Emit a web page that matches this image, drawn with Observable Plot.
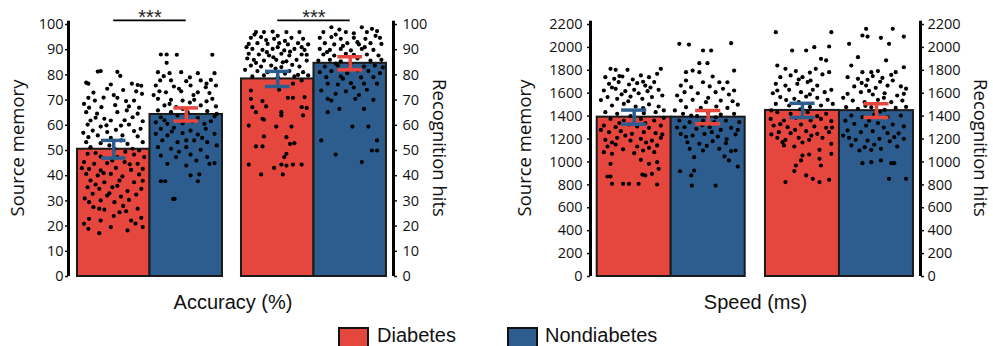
<!DOCTYPE html>
<html>
<head>
<meta charset="utf-8">
<script src="https://cdn.jsdelivr.net/npm/d3@7"></script>
<script src="https://cdn.jsdelivr.net/npm/@observablehq/plot@0.6"></script>
<style>
  body { margin: 0; background: #fff; }
  #wrap { position: relative; width: 993px; height: 346px; overflow: hidden; background: #fff; }
  #p1 { position: absolute; left: 0; top: 0; }
  #p2 { position: absolute; left: 497px; top: 0; }
  .sw { position: absolute; top: 327px; width: 27px; height: 27px; border: 2px solid #111; }
  .lt { position: absolute; top: 325px; font-family: "Liberation Sans", Arial, sans-serif; font-size: 20px; line-height: 21px; color: #111; }
</style>
</head>
<body>
<div id="wrap">
  <div id="p1"></div>
  <div id="p2"></div>
  <div class="sw" style="left:338px;background:#E5473F"></div>
  <div class="lt" style="left:377px">Diabetes</div>
  <div class="sw" style="left:507px;background:#2D5D8E"></div>
  <div class="lt" style="left:545px">Nondiabetes</div>
</div>
<script>
const red = "#E5473F", blue = "#2D5D8E";
const groups = ["Source memory", "Recognition hits"];
const series = ["Diabetes", "Nondiabetes"];
const accTicks = [0,10,20,30,40,50,60,70,80,90,100];
const speedTicks = [0,200,400,600,800,1000,1200,1400,1600,1800,2000,2200];
// order: source-diabetes, source-nondiabetes, recognition-diabetes, recognition-nondiabetes
const accMeans = [50.5, 64.3, 78.4, 84.6];
const accErrs = [3.5, 2.6, 3.0, 2.6];
const speedMeans = [1391, 1391, 1450, 1448];
const speedErrs = [62, 58, 62, 60];
const accSignificance = ["***", "***"];

// individual participants: [position within bar (0-1), value]
const accSrcDia = [[.28,81.3],[.32,81.5],[.55,81.2],[.59,79.6],[.12,76.9],[.15,76.5],[.46,76.2],[.75,76.5],[.83,76],[.88,75.7],[.41,74.5],[.81,73.5],[.89,72.5],[.15,70.9],[.24,69.8],[.55,70.9],[.67,69.6],[.78,69.8],[.16,67],[.33,67.2],[.71,67.5],[.68,65.9],[.12,65.2],[.27,64.6],[.55,65.2],[.83,64.6],[.18,61.9],[.37,62.6],[.46,61.9],[.76,63.2],[.9,61.6],[.14,60.3],[.32,59.5],[.6,59.9],[.71,60.3],[.87,58.6],[.21,57.9],[.41,57.3],[.53,58.2],[.78,57.7],[.15,55.3],[.28,56],[.46,55],[.62,56],[.83,55.6],[.12,53.3],[.32,52.9],[.69,52.6],[.9,53.3],[.18,51.3],[.51,50.7],[.76,50.7],[.14,48.7],[.32,47.6],[.55,47.4],[.78,48.4],[.92,47.4],[.09,45.4],[.23,44.7],[.41,45],[.65,45.4],[.83,44.7],[.16,42.7],[.32,42.1],[.53,43.1],[.74,42.3],[.9,42.7],[.12,40.7],[.28,40.1],[.46,40.7],[.62,39.7],[.85,40.5],[.18,38.1],[.37,37.4],[.58,38.1],[.78,37.4],[.14,35.4],[.3,34.8],[.48,35.4],[.69,33.9],[.88,34.8],[.21,32.8],[.41,32.1],[.6,31.7],[.81,32.5],[.16,29.5],[.32,30.2],[.51,29.5],[.71,30.4],[.3,26.9],[.37,26.5],[.58,25.5],[.67,25.9],[.83,26.9],[.16,22.9],[.32,22.2],[.74,22.2],[.88,23.3],[.15,18.9],[.3,17.2],[.46,19.6],[.69,18.3],[.9,19.6],[.09,20.9],[.22,73],[.5,72],[.63,74],[.36,71],[.09,68.5],[.52,68],[.85,67],[.25,63],[.65,62],[.4,60],[.08,57],[.6,54],[.44,52],[.25,49],[.66,49.5],[.85,50],[.48,46],[.06,43],[.72,44.5],[.36,41],[.55,36],[.25,36.5],[.9,38],[.44,33],[.1,31],[.63,28],[.22,27.5],[.5,24],[.8,21]];
const accSrcNon = [[.15,88.1],[.23,88.1],[.37,88],[.86,88],[.23,84.8],[.11,81.1],[.27,80.7],[.43,81.1],[.66,80.7],[.89,80.7],[.14,77.8],[.29,77.8],[.5,77.5],[.7,77.8],[.84,78],[.08,75.8],[.33,75.4],[.56,75.8],[.77,75.1],[.91,75.8],[.13,73.5],[.22,73.1],[.43,73.5],[.66,73.1],[.82,72.8],[.11,70.5],[.29,70.1],[.45,69.8],[.61,70.1],[.86,70.5],[.2,67.9],[.36,67.2],[.7,67.9],[.91,67.5],[.11,65.9],[.29,65.2],[.52,65.2],[.79,65.6],[.15,63.2],[.38,63.9],[.66,63],[.89,63.5],[.08,61.2],[.24,60.6],[.45,60.8],[.75,60.6],[.84,61.6],[.15,58.6],[.33,59],[.56,57.9],[.77,58.6],[.08,56.6],[.24,56],[.45,56.9],[.66,56.3],[.89,56.6],[.17,54],[.38,53.3],[.61,54],[.79,53.3],[.11,51.3],[.29,50.7],[.5,51.3],[.7,50.3],[.15,48],[.36,47.4],[.56,48.4],[.79,47.4],[.89,45],[.82,44.7],[.24,44.7],[.5,44],[.68,40.5],[.56,40.1],[.15,37.8],[.21,37.8],[.66,37.8],[.32,30.8],[.34,30.8],[.19,79.5],[.55,79],[.78,76.5],[.4,74.5],[.6,72],[.05,72],[.27,68.5],[.55,69],[.78,69.5],[.45,66.5],[.92,64.5],[.2,62],[.58,61.5],[.3,57.5],[.72,55],[.5,54],[.92,52],[.4,49.5],[.64,46]];
const accRecDia = [[.2,97],[.31,97],[.43,97.2],[.62,97],[.8,97],[.13,94.7],[.27,95],[.45,94.3],[.69,94.7],[.85,94.3],[.1,92.3],[.22,92.6],[.36,92.3],[.52,92.6],[.64,92.1],[.78,92.6],[.92,92.1],[.15,90.3],[.29,89.9],[.43,90.3],[.59,89.7],[.73,90.3],[.87,89.9],[.1,88.4],[.24,88.1],[.38,87.7],[.55,88.4],[.66,87.7],[.83,88.1],[.17,86],[.31,85.7],[.48,86],[.62,85.4],[.76,86],[.9,85.7],[.13,83.7],[.27,83.3],[.41,83.7],[.55,83.1],[.8,83.3],[.22,81.5],[.36,81.1],[.66,81.5],[.85,81.1],[.15,79.4],[.31,79.8],[.5,79.1],[.73,79.4],[.92,79.8],[.83,77.8],[.71,76.5],[.13,73.8],[.52,74.1],[.13,70.5],[.29,69.6],[.64,70.9],[.71,70.9],[.87,71.2],[.15,67.2],[.34,67.5],[.83,67.2],[.9,66.9],[.55,65.2],[.2,65.2],[.29,62.6],[.31,62.2],[.55,63.9],[.85,63.9],[.1,59.9],[.48,59.5],[.69,59.5],[.31,55.6],[.62,55.3],[.2,51.6],[.29,51.6],[.67,52.6],[.73,52.9],[.62,48.7],[.59,47.4],[.1,44.4],[.55,44.4],[.71,44.4],[.83,44.4],[.45,43.1],[.62,44],[.27,40.5],[.57,40.5],[.18,96],[.5,95.5],[.34,93.8],[.6,93.5],[.07,91],[.5,91],[.83,91],[.35,89],[.67,89.2],[.08,86.5],[.44,87],[.9,88],[.2,84.8],[.57,85],[.7,84],[.05,82],[.47,82.5],[.6,80.5],[.78,80]];
const accRecNon = [[.24,98.9],[.66,98.9],[.8,98.3],[.13,97],[.44,97],[.73,97],[.87,97.4],[.08,94.7],[.24,95],[.37,94.3],[.55,94.7],[.71,94.3],[.91,94.7],[.15,92.6],[.28,92.1],[.46,92.6],[.62,92.1],[.78,92.6],[.93,92.3],[.08,90.3],[.22,89.9],[.37,90.3],[.51,89.7],[.66,90.3],[.82,89.9],[.13,88.1],[.28,87.7],[.44,88.4],[.73,88.1],[.89,87.7],[.06,85.7],[.22,86],[.37,85.4],[.78,85.7],[.93,86],[.15,83.3],[.33,83.7],[.69,83.3],[.84,83.7],[.08,81.1],[.24,81.5],[.46,80.7],[.75,81.5],[.91,80.7],[.17,79.1],[.37,79.4],[.82,79.1],[.19,76.5],[.33,76.2],[.51,76.7],[.69,76.5],[.87,76.5],[.1,73.8],[.44,73.5],[.73,74.1],[.19,70.5],[.24,69.8],[.57,70.5],[.82,70.1],[.19,65.2],[.35,66.5],[.69,66.5],[.53,59.5],[.75,59.5],[.1,54],[.87,54],[.3,48.4],[.8,50],[.87,50],[.66,45.4],[.35,98],[.55,96.5],[.3,96],[.6,93],[.85,95.5],[.4,91.5],[.7,91],[.18,89],[.55,88],[.6,86.5],[.3,84.5],[.5,84],[.95,83],[.6,81.8],[.4,78.5],[.65,79],[.55,75],[.3,72.5],[.62,72]];
const spdSrcDia = [[.18,1813],[.25,1804],[.41,1804],[.86,1813],[.11,1740],[.23,1726],[.34,1746],[.59,1755],[.7,1740],[.81,1769],[.16,1682],[.29,1697],[.43,1676],[.54,1688],[.65,1667],[.77,1697],[.09,1624],[.25,1638],[.38,1618],[.5,1630],[.68,1618],[.83,1630],[.14,1566],[.27,1551],[.45,1571],[.61,1551],[.74,1566],[.88,1580],[.2,1493],[.36,1507],[.52,1484],[.7,1502],[.83,1484],[.11,1435],[.27,1420],[.63,1426],[.79,1435],[.18,1376],[.36,1362],[.59,1376],[.77,1362],[.9,1385],[.09,1318],[.25,1304],[.43,1327],[.54,1310],[.7,1298],[.86,1318],[.16,1260],[.32,1269],[.47,1246],[.63,1260],[.79,1251],[.11,1193],[.27,1211],[.45,1187],[.59,1202],[.74,1187],[.86,1211],[.14,1135],[.25,1152],[.54,1135],[.7,1123],[.81,1144],[.09,1085],[.2,1071],[.5,1077],[.77,1085],[.18,984],[.59,1019],[.7,984],[.81,998],[.83,940],[.14,873],[.18,873],[.65,882],[.61,890],[.74,896],[.2,809],[.35,809],[.43,809],[.56,809],[.81,803],[.3,1750],[.48,1720],[.62,1700],[.2,1650],[.72,1650],[.33,1590],[.56,1600],[.05,1540],[.42,1530],[.62,1470],[.9,1450],[.45,1400],[.3,1340],[.65,1340],[.05,1280],[.38,1230],[.88,1240],[.2,1170],[.66,1170],[.35,1110],[.62,1100]];
const spdSrcNon = [[.11,2031],[.24,2025],[.81,2037],[.43,1973],[.54,1973],[.38,1862],[.49,1862],[.85,1798],[.2,1784],[.29,1798],[.38,1784],[.56,1746],[.2,1711],[.43,1696],[.65,1696],[.76,1696],[.13,1667],[.27,1653],[.52,1659],[.7,1639],[.85,1624],[.18,1609],[.36,1600],[.6,1609],[.78,1589],[.13,1536],[.29,1542],[.47,1522],[.67,1536],[.83,1530],[.2,1478],[.4,1472],[.61,1484],[.76,1472],[.16,1420],[.27,1405],[.67,1414],[.85,1420],[.11,1362],[.25,1347],[.43,1362],[.58,1347],[.74,1362],[.92,1347],[.18,1303],[.34,1289],[.52,1303],[.67,1280],[.81,1298],[.13,1245],[.29,1231],[.45,1245],[.63,1222],[.87,1240],[.22,1172],[.38,1158],[.56,1181],[.74,1164],[.25,1115],[.43,1100],[.65,1115],[.81,1094],[.87,1100],[.31,1042],[.72,1048],[.78,1013],[.9,960],[.12,919],[.31,925],[.27,882],[.28,794],[.6,794],[.08,1580],[.5,1560],[.9,1500],[.05,1450],[.5,1430],[.35,1400],[.6,1390],[.08,1300],[.42,1320],[.9,1280],[.55,1260],[.2,1220],[.75,1200],[.48,1140]];
const spdRecDia = [[.14,2133],[.89,2133],[.36,1973],[.55,1973],[.66,2002],[.86,2008],[.16,1842],[.27,1813],[.41,1793],[.75,1900],[.82,1886],[.68,1813],[.2,1740],[.34,1755],[.5,1740],[.61,1711],[.77,1764],[.86,1784],[.14,1682],[.27,1667],[.43,1682],[.57,1697],[.7,1667],[.16,1624],[.32,1630],[.48,1609],[.64,1630],[.8,1609],[.89,1630],[.2,1566],[.39,1551],[.55,1571],[.7,1560],[.84,1542],[.14,1507],[.32,1493],[.45,1522],[.75,1493],[.91,1507],[.16,1435],[.34,1420],[.57,1435],[.82,1420],[.07,1376],[.25,1362],[.41,1385],[.61,1362],[.75,1376],[.89,1356],[.11,1318],[.3,1304],[.48,1327],[.66,1310],[.82,1298],[.18,1260],[.34,1251],[.55,1269],[.7,1246],[.86,1260],[.16,1211],[.27,1193],[.45,1211],[.59,1193],[.77,1211],[.25,1144],[.39,1135],[.23,1173],[.89,1158],[.73,1106],[.59,1065],[.5,1056],[.89,1071],[.73,1027],[.48,1013],[.41,969],[.75,969],[.39,920],[.55,882],[.64,853],[.73,824],[.27,824],[.86,844],[.6,1780],[.45,1720],[.1,1600],[.6,1590],[.28,1540],[.6,1480],[.08,1450],[.47,1460],[.7,1400],[.2,1330],[.9,1300],[.4,1280],[.62,1230],[.08,1240],[.5,1170]];
const spdRecNon = [[.36,2162],[.72,2162],[.31,2104],[.38,2095],[.56,2084],[.87,2095],[.13,2031],[.67,2031],[.25,1915],[.63,1886],[.87,1827],[.16,1842],[.31,1784],[.43,1784],[.52,1793],[.76,1784],[.11,1740],[.25,1726],[.38,1717],[.58,1734],[.72,1711],[.2,1659],[.36,1667],[.49,1647],[.65,1667],[.83,1659],[.11,1595],[.29,1609],[.45,1589],[.61,1600],[.78,1580],[.87,1595],[.18,1536],[.34,1522],[.52,1542],[.7,1522],[.85,1536],[.09,1478],[.25,1464],[.43,1478],[.61,1455],[.76,1472],[.16,1405],[.31,1391],[.47,1414],[.65,1391],[.83,1405],[.2,1333],[.36,1318],[.52,1339],[.72,1327],[.87,1310],[.11,1275],[.29,1260],[.45,1269],[.65,1251],[.13,1211],[.22,1193],[.38,1187],[.54,1202],[.74,1216],[.87,1202],[.16,1144],[.34,1129],[.47,1152],[.56,1115],[.78,1135],[.27,1100],[.43,1106],[.31,989],[.43,998],[.56,1013],[.7,989],[.74,989],[.67,853],[.9,853],[.45,1750],[.7,1760],[.3,1690],[.55,1700],[.9,1640],[.4,1620],[.05,1560],[.6,1560],[.35,1490],[.9,1480],[.55,1440],[.08,1360],[.4,1360],[.6,1300],[.8,1250],[.05,1230],[.68,1180]];

function panel(o) {
  const bars = [];
  for (let g = 0; g < groups.length; g++) {
    for (let s = 0; s < series.length; s++) {
      const i = g * 2 + s;
      const x1 = g * o.gap + s;
      bars.push({group: groups[g], series: series[s], other: series[1 - s], x1, x2: x1 + 1, xc: x1 + 0.5,
        mean: o.means[i], lo: o.means[i] - o.errs[i], hi: o.means[i] + o.errs[i]});
    }
  }
  const dots = o.points.flatMap((pts, i) => pts.map(([j, v]) => ({x: bars[i].x1 + j, y: v})));
  const sig = (o.sig || []).map((t, g) => ({t, x1: bars[g * 2].xc, x2: bars[g * 2 + 1].xc}));
  const cap = 0.17;
  return Plot.plot({
    width: o.width, height: 315,
    marginLeft: o.marginLeft, marginRight: o.marginRight, marginTop: 24, marginBottom: 39,
    x: {domain: o.xDomain, axis: null},
    y: {domain: [0, o.yMax], axis: null},
    color: {domain: series, range: [red, blue]},
    style: {fontFamily: "'Open Sans', sans-serif", fontSize: "14.5px", color: "#111", background: "white", overflow: "visible"},
    marks: [
      Plot.rectY(bars, {x1: "x1", x2: "x2", y: "mean", fill: "series", stroke: "#1a1a1a", strokeWidth: 2}),
      Plot.dot(dots, {x: "x", y: "y", r: 2.1, fill: "#000", stroke: null}),
      Plot.ruleX(bars, {x: "xc", y1: "lo", y2: "hi", stroke: "other", strokeWidth: 3.5}),
      Plot.ruleY(bars, {x1: d => d.xc - cap, x2: d => d.xc + cap, y: "hi", stroke: "other", strokeWidth: 3.5}),
      Plot.ruleY(bars, {x1: d => d.xc - cap, x2: d => d.xc + cap, y: "lo", stroke: "other", strokeWidth: 3.5}),
      Plot.ruleX([o.xDomain[0], o.xDomain[1]], {y1: 0, y2: o.yMax * 1.013, stroke: "#000", strokeWidth: 3}),
      Plot.axisY({anchor: "left", ticks: o.ticks, tickSize: 3, tickPadding: o.padL, tickFormat: d => String(d), fontSize: 14.5, strokeWidth: 1.5}),
      Plot.axisY({anchor: "right", ticks: o.ticks, tickSize: 3, tickPadding: o.padR, tickFormat: d => String(d), fontSize: 14.5, strokeWidth: 1.5}),
      Plot.ruleY(sig, {x1: "x1", x2: "x2", y: o.yMax * 1.016, stroke: "#000", strokeWidth: 1.8}),
      Plot.text(sig, {x: d => (d.x1 + d.x2) / 2, y: o.yMax * 1.016, text: "t", lineAnchor: "bottom", dy: 3.6,
        fontFamily: "'Liberation Sans', Arial, sans-serif", fontSize: 20, fill: "#222"}),
      Plot.text([o.xLabel], {text: d => d, frameAnchor: "bottom", textAnchor: "middle", lineAnchor: "bottom", dy: 32, dx: o.xLabelDx,
        fontFamily: "'Liberation Sans', Arial, sans-serif", fontSize: 20, fill: "#111"}),
      Plot.text([groups[0]], {text: d => d, frameAnchor: "left", textAnchor: "middle", lineAnchor: "middle", rotate: -90, dx: o.leftDx, dy: -2.5, fontSize: 18.5, fill: "#111"}),
      Plot.text([groups[1]], {text: d => d, frameAnchor: "right", textAnchor: "middle", lineAnchor: "middle", rotate: 90, dx: o.rightDx, dy: -2.5, fontSize: 18.5, fill: "#111"})
    ]
  });
}

document.getElementById("p1").append(panel({
  width: 497, marginLeft: 68, marginRight: 104, gap: 2.262, xDomain: [-0.124, 4.359],
  yMax: 100, ticks: accTicks, means: accMeans, errs: accErrs,
  points: [accSrcDia, accSrcNon, accRecDia, accRecNon], sig: accSignificance,
  xLabel: "Accuracy (%)", xLabelDx: 2, leftDx: -50, rightDx: 45, padL: 2, padR: 6
}));
document.getElementById("p2").append(panel({
  width: 496, marginLeft: 93, marginRight: 73, gap: 2.274, xDomain: [-0.0905, 4.369],
  yMax: 2200, ticks: speedTicks, means: speedMeans, errs: speedErrs,
  points: [spdSrcDia, spdSrcNon, spdRecDia, spdRecNon], sig: [],
  xLabel: "Speed (ms)", xLabelDx: 0, leftDx: -65, rightDx: 59.5, padL: 5, padR: 4
}));
</script>
</body>
</html>
